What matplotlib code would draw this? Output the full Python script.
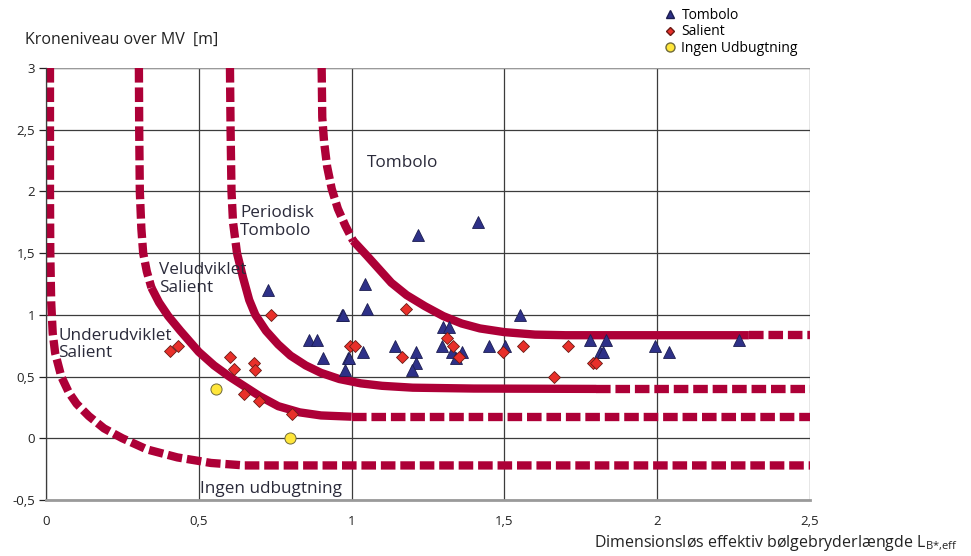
import matplotlib
matplotlib.use("Agg")
import matplotlib.pyplot as plt
from matplotlib.lines import Line2D
from matplotlib.ticker import FuncFormatter

plt.rcParams['font.family'] = ['Open Sans', 'DejaVu Sans']
plt.rcParams['lines.scale_dashes'] = False

# --- Observed cases -------------------------------------------------------
tombolo_x = [0.726, 0.969, 0.86, 0.887, 0.906, 0.988, 0.98,
             1.414, 1.217, 1.044, 1.05, 0.972, 1.551, 1.30, 1.32,
             1.142, 1.296, 1.45, 1.502, 1.037, 1.21, 1.329, 1.36,
             0.99, 1.341, 1.21, 1.197,
             1.78, 1.833, 1.813, 1.822, 1.993, 2.04, 2.268]
tombolo_y = [1.20, 1.00, 0.80, 0.80, 0.65, 0.65, 0.55,
             1.75, 1.65, 1.25, 1.05, 1.00, 1.00, 0.90, 0.90,
             0.75, 0.75, 0.75, 0.75, 0.70, 0.70, 0.70, 0.70,
             0.65, 0.65, 0.61, 0.55,
             0.80, 0.80, 0.70, 0.70, 0.75, 0.70, 0.80]

salient_x = [0.406, 0.432, 0.736, 0.602, 0.615, 0.68, 0.684,
             0.648, 0.697, 0.805,
             1.178, 0.995, 1.011, 1.165, 1.312, 1.332, 1.351,
             1.495, 1.561, 1.662, 1.709, 1.79, 1.80]
salient_y = [0.705, 0.75, 1.00, 0.655, 0.56, 0.61, 0.55,
             0.355, 0.30, 0.20,
             1.05, 0.75, 0.75, 0.655, 0.81, 0.75, 0.655,
             0.70, 0.75, 0.50, 0.75, 0.61, 0.61]

ingen_x = [0.556, 0.80]
ingen_y = [0.40, 0.00]

# --- Classification boundaries (dashed / solid / dashed pieces) ----------
c1_dash_x = [0.013, 0.013, 0.014, 0.017, 0.022, 0.030, 0.05, 0.075, 0.10,
             0.14, 0.19, 0.25, 0.33, 0.43, 0.54, 0.65, 2.5]
c1_dash_y = [3.0, 2.0, 1.5, 1.1, 0.85, 0.69, 0.50, 0.37, 0.28,
             0.18, 0.08, 0.0, -0.09, -0.155, -0.20, -0.22, -0.22]

c2_top_x = [0.304, 0.305, 0.307, 0.312, 0.318, 0.33, 0.345]
c2_top_y = [3.0, 2.5, 2.0, 1.7, 1.5, 1.35, 1.22]
c2_mid_x = [0.345, 0.37, 0.40, 0.44, 0.50, 0.55, 0.60, 0.65, 0.70, 0.76,
            0.83, 0.90, 1.0]
c2_mid_y = [1.22, 1.10, 0.99, 0.87, 0.70, 0.59, 0.50, 0.42, 0.34, 0.26,
            0.21, 0.185, 0.175]
c2_tail_x = [1.0, 2.5]
c2_tail_y = [0.175, 0.175]

c3_top_x = [0.602, 0.604, 0.607, 0.612, 0.625]
c3_top_y = [3.0, 2.5, 2.0, 1.75, 1.50]
c3_mid_x = [0.625, 0.645, 0.665, 0.685, 0.72, 0.76, 0.80, 0.85, 0.90,
            0.96, 1.03, 1.10, 1.20, 1.40, 1.80]
c3_mid_y = [1.50, 1.30, 1.12, 1.00, 0.87, 0.76, 0.67, 0.59, 0.53,
            0.48, 0.445, 0.425, 0.41, 0.403, 0.40]
c3_tail_x = [1.80, 2.5]
c3_tail_y = [0.40, 0.40]

c4_top_x = [0.902, 0.904, 0.91, 0.92, 0.935, 0.955, 0.98, 1.005]
c4_top_y = [3.0, 2.6, 2.4, 2.2, 2.02, 1.86, 1.72, 1.60]
c4_mid_x = [1.005, 1.05, 1.09, 1.13, 1.18, 1.24, 1.30, 1.36, 1.42, 1.50,
            1.60, 1.70, 2.30]
c4_mid_y = [1.60, 1.48, 1.37, 1.26, 1.16, 1.07, 0.99, 0.93, 0.89, 0.86,
            0.84, 0.835, 0.835]
c4_tail_x = [2.30, 2.5]
c4_tail_y = [0.835, 0.835]

region_labels = ["Tombolo", "Periodisk\nTombolo", "Veludviklet\nSalient",
                 "Underudviklet\nSalient", "Ingen udbugtning"]
region_x = [1.05, 0.635, 0.37, 0.04, 0.505]
region_y = [2.23, 1.75, 1.29, 0.76, -0.41]

x_ticks = [0, 0.5, 1, 1.5, 2, 2.5]
y_ticks = [-0.5, 0, 0.5, 1, 1.5, 2, 2.5, 3]

# --- Figure --------------------------------------------------------------
fig = plt.figure(figsize=(9.71, 5.56), dpi=100)
ax = fig.add_axes([46 / 971, 1 - 500 / 556, 764 / 971, 432 / 556])
ax.set_xlim(0, 2.5)
ax.set_ylim(-0.5, 3)

ax.set_xticks(x_ticks)
ax.set_yticks(y_ticks)
comma = FuncFormatter(lambda v, p: ("%g" % v).replace(".", ","))
ax.xaxis.set_major_formatter(comma)
ax.yaxis.set_major_formatter(comma)
ax.grid(True, color="#3c3c3c", linewidth=0.9)
ax.set_axisbelow(True)
for side in ["top", "right"]:
    ax.spines[side].set_visible(False)
ax.spines["bottom"].set_color("#9a9a9a")
ax.spines["bottom"].set_linewidth(2.0)
ax.spines["left"].set_color("#3c3c3c")
ax.spines["left"].set_linewidth(0.9)
ax.axhline(3, color="#9a9a9a", linewidth=1.6, zorder=1)
ax.tick_params(axis="x", length=0, pad=11, labelsize=9.5, colors="#222222")
ax.tick_params(axis="y", length=5, width=0.9, direction="out", pad=3,
               labelsize=9.5, colors="#222222")

red = "#AD0037"
dash = (0, (10.5, 3.5))
lw = 6.0
dashed_pieces = [(c1_dash_x, c1_dash_y), (c2_top_x, c2_top_y),
                 (c2_tail_x, c2_tail_y), (c3_top_x, c3_top_y),
                 (c3_tail_x, c3_tail_y), (c4_top_x, c4_top_y),
                 (c4_tail_x, c4_tail_y)]
solid_pieces = [(c2_mid_x, c2_mid_y), (c3_mid_x, c3_mid_y),
                (c4_mid_x, c4_mid_y)]
for xs, ys in dashed_pieces:
    ax.plot(xs, ys, color=red, linewidth=lw, linestyle=dash,
            dash_capstyle="butt", solid_joinstyle="round", zorder=2)
for xs, ys in solid_pieces:
    ax.plot(xs, ys, color=red, linewidth=lw, solid_capstyle="butt",
            solid_joinstyle="round", zorder=2)

tri_kw = dict(marker="^", color="#2E3188", markeredgecolor="#1c1d50",
              markeredgewidth=0.6, markersize=8.5, linestyle="none")
dia_kw = dict(marker="D", color="#E8302A", markeredgecolor="#6a1a14",
              markeredgewidth=0.6, markersize=6.0, linestyle="none")
cir_kw = dict(marker="o", color="#FFE63A", markeredgecolor="#6f6a3a",
              markeredgewidth=0.7, markersize=8.0, linestyle="none")
ax.plot(tombolo_x, tombolo_y, zorder=4, **tri_kw)
ax.plot(salient_x, salient_y, zorder=4, **dia_kw)
ax.plot(ingen_x, ingen_y, zorder=4, **cir_kw)

for label, x, y in zip(region_labels, region_x, region_y):
    ax.text(x, y, label, fontsize=12.3, color="#2a2a3a", ha="left",
            va="center", linespacing=1.15, zorder=3)

fig.text(25 / 971, 1 - 40 / 556, "Kroneniveau over MV  [m]", fontsize=11.5,
         color="#222222", ha="left", va="center")
fig.text(958 / 971, 1 - 543 / 556,
         r"Dimensionsløs effektiv bølgebryderlængde L$_{\mathregular{B{*}{,}eff}}$",
         fontsize=11.5, color="#222222", ha="right", va="center")

handles = [
    Line2D([], [], marker="^", color="#2E3188", markeredgecolor="#1c1d50",
           markersize=6, linestyle="none", label="Tombolo"),
    Line2D([], [], marker="D", color="#E8302A", markeredgecolor="#6a1a14",
           markersize=4.5, linestyle="none", label="Salient"),
    Line2D([], [], marker="o", color="#FFE63A", markeredgecolor="#6f6a3a",
           markersize=6.5, linestyle="none", label="Ingen Udbugtning"),
]
fig.legend(handles=handles, loc="upper left",
           bbox_to_anchor=(655 / 971, 1 + 2 / 556), frameon=False,
           fontsize=10, handlelength=0.8, handletextpad=0.4,
           labelspacing=0.12, borderpad=0.2)

fig.savefig("out.png", dpi=100)
